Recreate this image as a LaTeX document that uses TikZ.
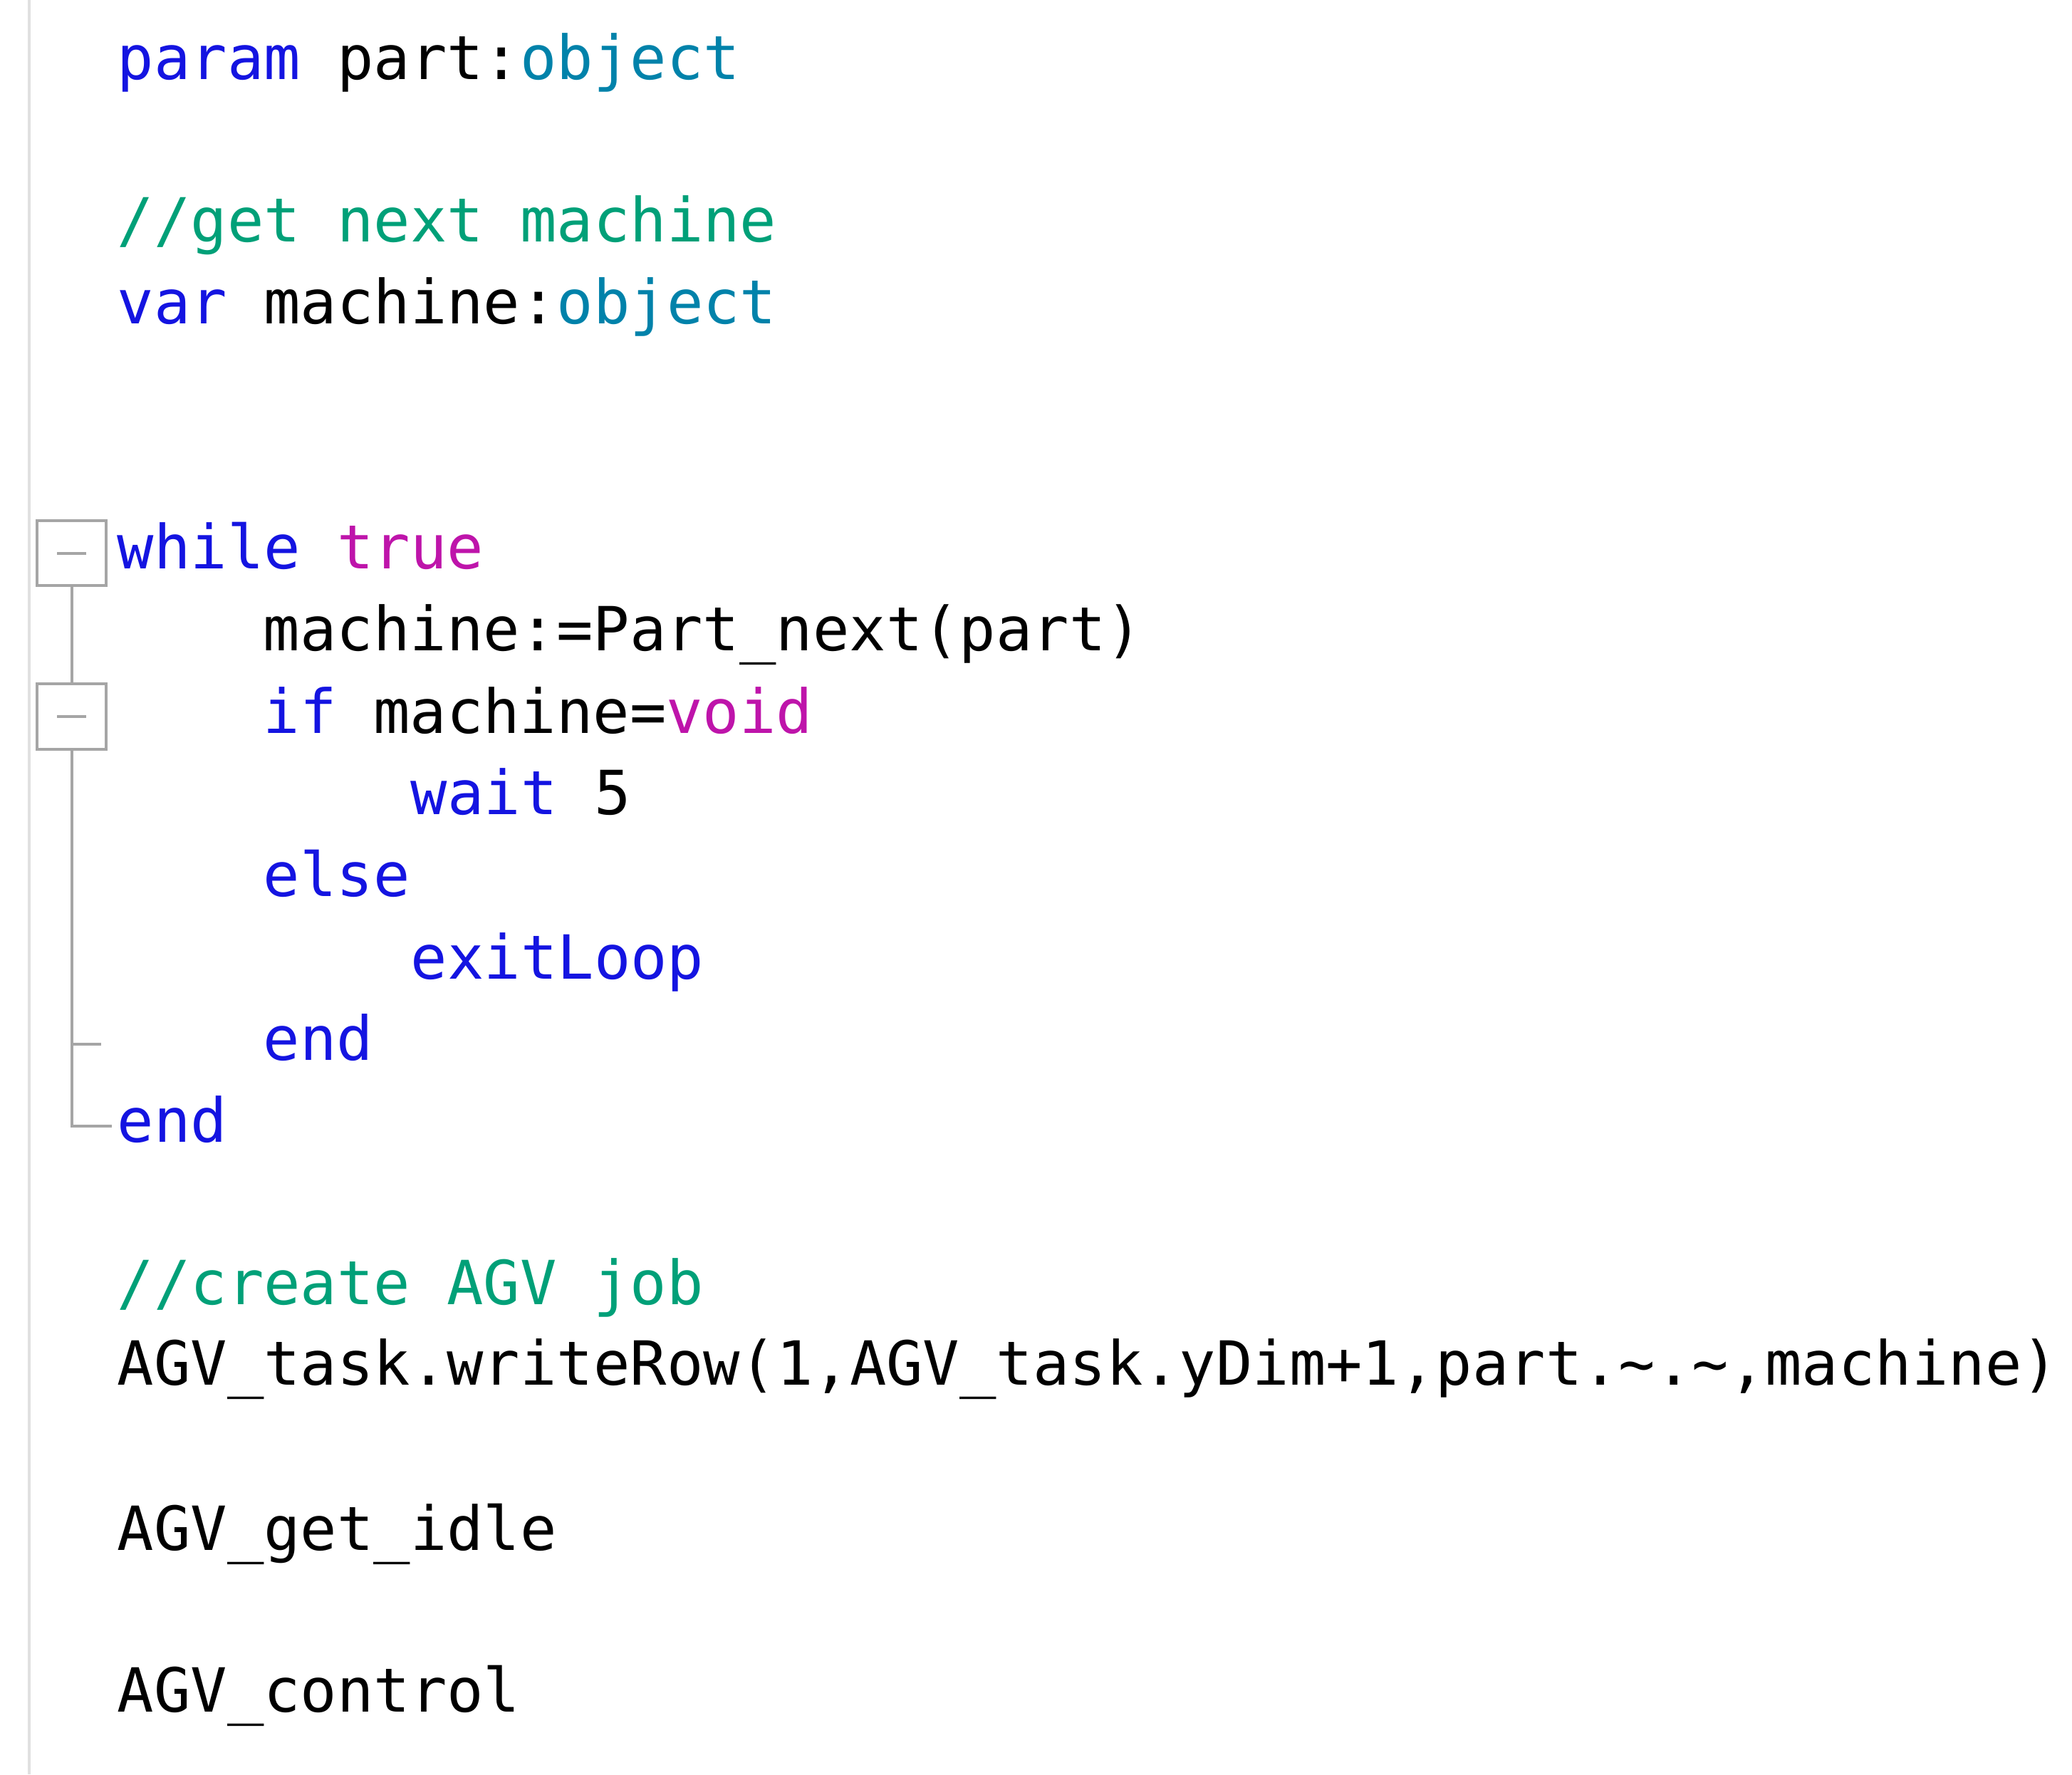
\documentclass[tikz,border=0pt]{standalone}
\usepackage{fontspec}
\newfontfamily\codefont{DejaVu Sans Mono}
\definecolor{kw}{RGB}{20,20,225}
\definecolor{ty}{RGB}{0,130,170}
\definecolor{lit}{RGB}{190,20,170}
\definecolor{cm}{RGB}{0,160,120}
\definecolor{fold}{RGB}{165,165,165}
\begin{document}
\begin{tikzpicture}[x=0.01865cm,y=-0.01865cm,
  code/.style={anchor=base west,inner sep=0pt,font=\codefont\fontsize{24.3}{30}\selectfont},
  foldbox/.style={draw=fold,line width=1.2pt,fill=white},
  foldline/.style={draw=fold,line width=1.2pt}]
\useasboundingbox (0,0) rectangle (1560,1336);
\draw[draw=black!12,line width=1pt] (22,0) -- (22,1336);
% fold markers
\draw[foldline] (54,441) -- (54,515);
\draw[foldline] (54,564) -- (54,848) -- (84,848);
\draw[foldline] (54,786) -- (76,786);
\draw[foldbox] (28,392) rectangle (80,441);
\draw[foldline] (43,416.5) -- (65,416.5);
\draw[foldbox] (28,515) rectangle (80,564);
\draw[foldline] (43,539.5) -- (65,539.5);
% code lines
\node[code] (l1) at (88,60) {\textcolor{kw}{param} part:\textcolor{ty}{object}};
\node[code] (l2) at (88,182) {\textcolor{cm}{//get next machine}};
\node[code] (l3) at (88,244) {\textcolor{kw}{var} machine:\textcolor{ty}{object}};
\node[code] (l4) at (88,428) {\textcolor{kw}{while} \textcolor{lit}{true}};
\node[code] (l5) at (198,490) {machine:=Part\_next(part)};
\node[code] (l6) at (198,552) {\textcolor{kw}{if} machine=\textcolor{lit}{void}};
\node[code] (l7) at (309,613) {\textcolor{kw}{wait} 5};
\node[code] (l8) at (198,675) {\textcolor{kw}{else}};
\node[code] (l9) at (309,737) {\textcolor{kw}{exitLoop}};
\node[code] (l10) at (198,798) {\textcolor{kw}{end}};
\node[code] (l11) at (88,860) {\textcolor{kw}{end}};
\node[code] (l12) at (88,982) {\textcolor{cm}{//create AGV job}};
\node[code] (l13) at (88,1043) {AGV\_task.writeRow(1,AGV\_task.yDim+1,part.\textasciitilde.\textasciitilde,machine)};
\node[code] (l14) at (88,1167) {AGV\_get\_idle};
\node[code] (l15) at (88,1289) {AGV\_control};
\end{tikzpicture}
\end{document}
